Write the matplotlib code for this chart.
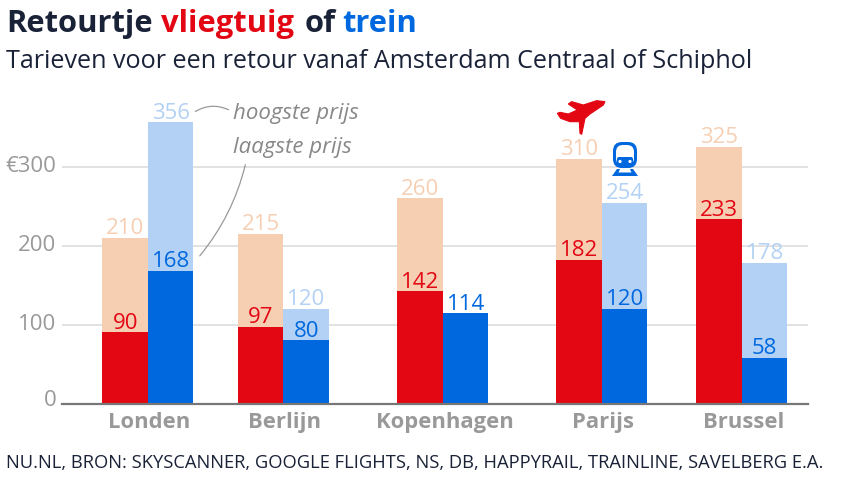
import matplotlib
matplotlib.use('Agg')
import matplotlib.pyplot as plt
from matplotlib.patches import Polygon, FancyBboxPatch, Circle, FancyArrowPatch

cities = ['Londen', 'Berlijn', 'Kopenhagen', 'Parijs', 'Brussel']
plane_low = [90, 97, 142, 182, 233]
plane_high = [210, 215, 260, 310, 325]
train_low = [168, 80, 114, 120, 58]
train_high = [356, 120, 114, 254, 178]
y_ticks = [0, 100, 200, 300]
y_tick_labels = ['', '100', '200', '€300']

RED = '#e30613'
RED_LIGHT = '#f6cfb3'
BLUE = '#0068de'
BLUE_LIGHT = '#b3d1f5'
GREY = '#999999'
DARK = '#1a2238'

plt.rcParams['font.family'] = ['Open Sans', 'Noto Sans', 'DejaVu Sans']

W, H = 854, 480
fig = plt.figure(figsize=(W / 100, H / 100), dpi=100)

# plot area is laid out in pixels of the reference
left, right, base, top = 62, 808, 403.5, 90
ax = fig.add_axes([left / W, 1 - base / H, (right - left) / W, (base - top) / H])
ax.set_xlim(left, right)
ax.set_ylim(0, (base - top) / 0.79)

centers = [148, 283.5, 443, 602, 742]
bw = 45.5

for t in y_ticks[1:]:
    ax.axhline(t, color='#dddddd', lw=1.2, zorder=0)

for i, c in enumerate(centers):
    ax.bar(c - bw / 2, plane_high[i], bw, color=RED_LIGHT, zorder=2)
    ax.bar(c - bw / 2, plane_low[i], bw, color=RED, zorder=3)
    ax.bar(c + bw / 2, train_high[i], bw, color=BLUE_LIGHT, zorder=2)
    ax.bar(c + bw / 2, train_low[i], bw, color=BLUE, zorder=3)

    ax.text(c - bw / 2, plane_low[i] - 2, str(plane_low[i]), color=RED, ha='center', va='bottom', fontsize=16, zorder=4)
    ax.text(c - bw / 2, plane_high[i] - 2, str(plane_high[i]), color=RED_LIGHT, ha='center', va='bottom', fontsize=16, zorder=4)
    ax.text(c + bw / 2, train_low[i] - 2, str(train_low[i]), color=BLUE, ha='center', va='bottom', fontsize=16, zorder=4)
    if train_high[i] != train_low[i]:
        ax.text(c + bw / 2, train_high[i] - 2, str(train_high[i]), color=BLUE_LIGHT, ha='center', va='bottom', fontsize=16, zorder=4)

for s in ['top', 'right', 'left']:
    ax.spines[s].set_visible(False)
ax.spines['bottom'].set_color('#777777')
ax.spines['bottom'].set_linewidth(1.6)
ax.spines['bottom'].set_zorder(5)
ax.set_xticks([c + 1.5 for c in centers])
ax.set_xticklabels(cities, fontsize=15.8, fontweight='bold', color=GREY)
ax.tick_params(axis='x', length=0, pad=6)
ax.set_yticks(y_ticks)
ax.set_yticklabels(y_tick_labels, fontsize=16, color=GREY)
ax.tick_params(axis='y', length=0, pad=4)
for lab in ax.get_yticklabels():
    lab.set_verticalalignment('center')

# overlay in pixel coords for titles, notes and icons
ov = fig.add_axes([0, 0, 1, 1], facecolor='none')
ov.set_xlim(0, W)
ov.set_ylim(H, 0)
ov.axis('off')

# the 0 sits above the baseline in the original
ov.text(57, 400, '0', color=GREY, fontsize=16, ha='right', va='center')

ov.text(6, 24, 'Retourtje', color=DARK, fontsize=22.2, fontweight='bold', va='center')
ov.text(161, 24, 'vliegtuig', color=RED, fontsize=22.2, fontweight='bold', va='center')
ov.text(305, 24, 'of', color=DARK, fontsize=22.2, fontweight='bold', va='center')
ov.text(342, 24, 'trein', color=BLUE, fontsize=22.2, fontweight='bold', va='center')
ov.text(6, 62, 'Tarieven voor een retour vanaf Amsterdam Centraal of Schiphol', color=DARK, fontsize=18.1, va='center')
ov.text(6, 463, 'NU.NL, BRON: SKYSCANNER, GOOGLE FLIGHTS, NS, DB, HAPPYRAIL, TRAINLINE, SAVELBERG E.A.', color=DARK, fontsize=13.25, va='center')

ov.text(233, 113, 'hoogste prijs', color='#888888', fontsize=16, style='italic', va='center')
ov.text(233, 148, 'laagste prijs', color='#888888', fontsize=16, style='italic', va='center')
ov.add_patch(FancyArrowPatch((193, 113), (231, 111), connectionstyle='arc3,rad=-0.3', arrowstyle='-', color='#999999', lw=0.9))
ov.add_patch(FancyArrowPatch((198, 258), (246, 162), connectionstyle='arc3,rad=0.12', arrowstyle='-', color='#999999', lw=0.9))

# plane icon
plane_zoom = [(195, 35), (190, 45), (150, 72), (135, 85), (125, 133), (120, 130), (118, 95), (90, 95),
              (62, 85), (52, 70), (60, 67), (85, 72), (112, 60), (85, 42), (95, 35), (130, 45), (170, 32)]
ov.add_patch(Polygon([(540 + x / 3, 90 + y / 3) for x, y in plane_zoom], closed=True, color=RED, lw=0.8))

# train icon
ov.add_patch(FancyBboxPatch((613, 142), 24, 26, boxstyle='round,pad=0,rounding_size=9', fc=BLUE, ec='none'))
ov.add_patch(FancyBboxPatch((616, 145), 18, 20, boxstyle='round,pad=0,rounding_size=7', fc='white', ec='none'))
ov.add_patch(FancyBboxPatch((617, 157), 16, 10, boxstyle='round,pad=0,rounding_size=2', fc=BLUE, ec='none'))
ov.add_patch(Circle((620, 161.5), 1.6, fc='white', ec='none'))
ov.add_patch(Circle((630, 161.5), 1.6, fc='white', ec='none'))
ov.add_patch(Polygon([(617, 169), (620, 169), (618.5, 172.5), (631.5, 172.5), (630, 169), (633, 169), (638, 176), (612, 176)], closed=True, fc=BLUE, ec='none'))

fig.savefig('out.png', dpi=100)
